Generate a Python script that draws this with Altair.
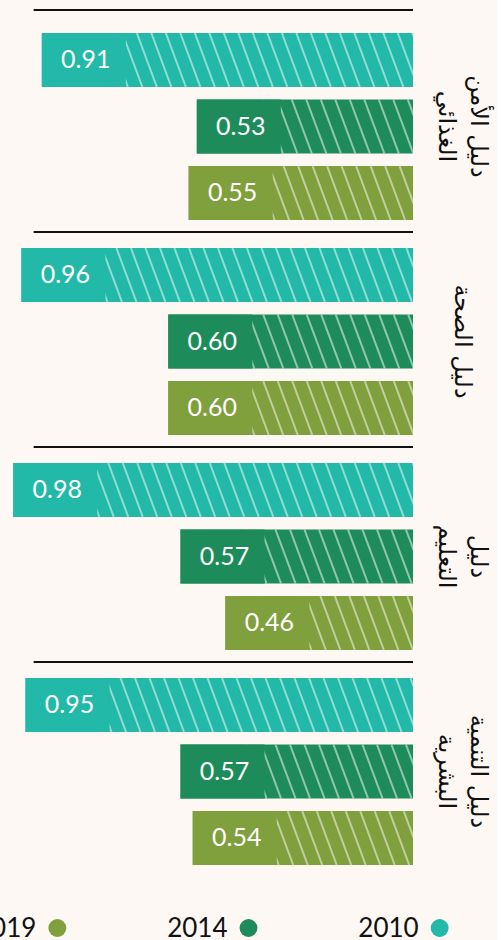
import altair as alt
import pandas as pd

# ---------------- data ----------------
group_keys = ["food", "health", "education", "hdi"]
group_labels = ["دليل الأمن\nالغذائي", "دليل الصحة", "دليل\nالتعليم", "دليل التنمية\nالبشرية"]
years = ["2010", "2014", "2019"]
values_2010 = [0.91, 0.96, 0.98, 0.95]
values_2014 = [0.53, 0.60, 0.57, 0.57]
values_2019 = [0.55, 0.60, 0.46, 0.54]
year_colors = ["#22b9a8", "#1e8c5a", "#809f3d"]
legend_order = ["2019", "2014", "2010"]

# ---------------- layout constants ----------------
W = 413
H = 187
DOMAIN_MAX = 1.0125
PX = W / DOMAIN_MAX          # pixels per unit on the x scale
SOLID = 84                   # solid (label) part of each bar, px
SLANT = 20                   # hatch slant over bar height, px
STEP = 14.5                  # hatch spacing, px

rows = []
series = {"2010": values_2010, "2014": values_2014, "2019": values_2019}
for gi, g in enumerate(group_keys):
    for y in years:
        v = series[y][gi]
        rows.append(dict(kind="bar", group=g, label=group_labels[gi], year=y, value=v))
        bar_px = v * PX
        off = SOLID - SLANT + 2
        while off < bar_px:
            xt = v - off / PX
            rows.append(dict(kind="hatch", group=g, label=group_labels[gi], year=y,
                             value=v, xt=xt, xb=xt - SLANT / PX))
            off += STEP
df = pd.DataFrame(rows)

x_scale = alt.Scale(domain=[0, DOMAIN_MAX], reverse=True, nice=False, zero=True)
y_scale = alt.Scale(paddingInner=0.19, paddingOuter=0)
color_enc = alt.Color("year:N", scale=alt.Scale(domain=years, range=year_colors), legend=None)


def yenc(**kw):
    return alt.Y("year:N", sort=years, scale=y_scale, axis=None, **kw)


base = alt.Chart()

bars = base.mark_bar().encode(
    x=alt.X("value:Q", scale=x_scale, axis=None),
    y=yenc(),
    color=color_enc,
).transform_filter("datum.kind == 'bar'")

hatch = base.mark_rule(color="white", strokeOpacity=0.5, strokeWidth=2, clip=True).encode(
    x=alt.X("xt:Q", scale=x_scale, axis=None),
    x2="xb:Q",
    y=yenc(bandPosition=0),
    y2=alt.Y2("year", bandPosition=1),
).transform_filter("datum.kind == 'hatch'")

solid = base.mark_bar(x2Offset=SOLID).encode(
    x=alt.X("value:Q", scale=x_scale, axis=None),
    x2="value",
    y=yenc(),
    color=color_enc,
).transform_filter("datum.kind == 'bar'")

labels = base.mark_text(dx=SOLID / 2 + 2, align="center", baseline="middle", color="white",
                        font="Lato", fontSize=25).encode(
    x=alt.X("value:Q", scale=x_scale, axis=None),
    y=yenc(),
    text=alt.Text("value:Q", format=".2f"),
).transform_filter("datum.kind == 'bar'")

text_style = dict(angle=90, align="center", baseline="middle", lineBreak="\n",
                  font="DejaVu Sans", fontSize=24, lineHeight=32, color="#111111")

group_text_multi = base.mark_text(dy=-65, **text_style).encode(
    x=alt.datum(0),
    y=yenc(),
    text="label:N",
).transform_filter("datum.kind == 'bar' && datum.year == '2014' && indexof(datum.label, '\\n') >= 0")

group_text_single = base.mark_text(dy=-49, **text_style).encode(
    x=alt.datum(0),
    y=yenc(),
    text="label:N",
).transform_filter("datum.kind == 'bar' && datum.year == '2014' && indexof(datum.label, '\\n') < 0")

top_rule = base.mark_rule(color="#111111", strokeWidth=2, yOffset=-23).encode(
    x=alt.datum(0),
    x2=alt.datum(0.93),
    y=yenc(bandPosition=0),
).transform_filter("datum.kind == 'bar' && datum.year == '2010' && datum.group == 'food'")

bottom_rule = base.mark_rule(color="#111111", strokeWidth=2, yOffset=12).encode(
    x=alt.datum(0),
    x2=alt.datum(0.93),
    y=yenc(bandPosition=1),
).transform_filter("datum.kind == 'bar' && datum.year == '2019' && datum.group != 'hdi'")

panel = alt.layer(bars, hatch, solid, labels, group_text_multi, group_text_single,
                  top_rule, bottom_rule, data=df).properties(width=W, height=H)

main = panel.facet(
    row=alt.Row("group:N", sort=group_keys, title=None, header=alt.Header(labels=False)),
    spacing=28,
    bounds="flush",
)

# ---------------- custom legend ----------------
leg_df = pd.DataFrame({"year": legend_order})
leg_x = alt.X("year:N", sort=legend_order, scale=alt.Scale(type="point", padding=0.3), axis=None)
leg_pts = alt.Chart(leg_df).mark_circle(size=320, opacity=1).encode(
    x=leg_x, y=alt.value(20), color=color_enc
)
leg_txt = alt.Chart(leg_df).mark_text(align="right", dx=-21, dy=9, baseline="alphabetic",
                                      font="Lato", fontSize=26, color="#111111", clip=True).encode(
    x=leg_x, y=alt.value(20), text="year:N"
)
legend = alt.layer(leg_pts, leg_txt).properties(width=497, height=40)

chart = alt.vconcat(main, legend, spacing=43).configure_view(stroke=None).properties(
    background="#fdf8f4",
    padding={"left": 0, "top": 8, "right": 0, "bottom": 0},
)

chart.save("out.html", embed_options={"renderer": "svg", "actions": False})
